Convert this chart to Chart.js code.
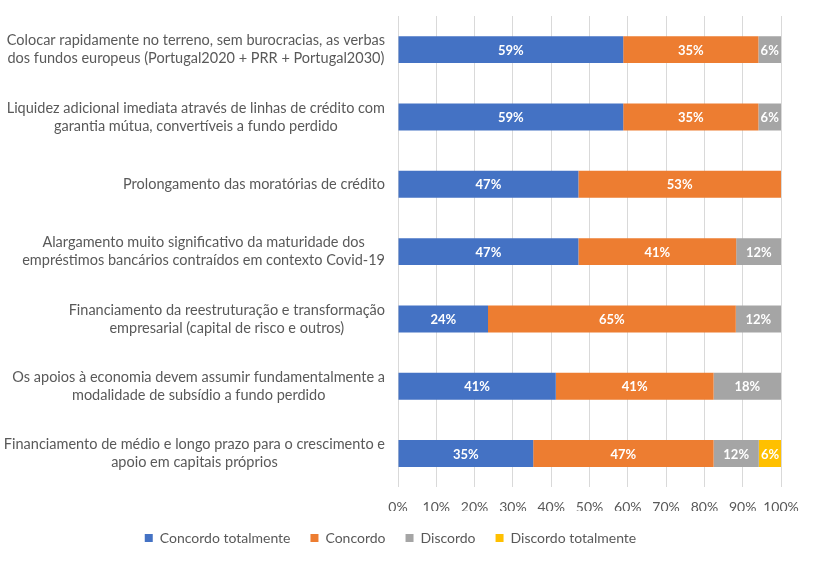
<!DOCTYPE html>
<html>
<head>
<meta charset="utf-8">
<script src="https://cdn.jsdelivr.net/npm/chart.js@4"></script>
<style>
	html, body { margin: 0; padding: 0; background: #fff; }
	#wrap { width: 814px; height: 561px; }
</style>
</head>
<body>
<div id="wrap"><canvas id="surveyChart" width="814" height="561"></canvas></div>
<script>
const categories = [
	['Colocar rapidamente no terreno, sem burocracias, as verbas', 'dos fundos europeus (Portugal2020 + PRR + Portugal2030)'],
	['Liquidez adicional imediata através de linhas de crédito com', 'garantia mútua, convertíveis a fundo perdido'],
	['Prolongamento das moratórias de crédito'],
	['Alargamento muito significativo da maturidade dos', 'empréstimos bancários contraídos em contexto Covid-19'],
	['Financiamento da reestruturação e transformação', 'empresarial (capital de risco e outros)'],
	['Os apoios à economia devem assumir fundamentalmente a', 'modalidade de subsídio a fundo perdido'],
	['Financiamento de médio e longo prazo para o crescimento e', 'apoio em capitais próprios']
];

const concordoTotalmente = [58.8, 58.8, 47.1, 47.1, 23.5, 41.2, 35.3];
const concordo = [35.3, 35.3, 52.9, 41.2, 64.7, 41.2, 47.1];
const discordo = [5.9, 5.9, 0, 11.8, 11.8, 17.6, 11.8];
const discordoTotalmente = [0, 0, 0, 0, 0, 0, 5.9];

const FONT = 'Lato';
const TEXT = '#595959';

// white % labels in the middle of each segment
const barLabels = {
	id: 'barLabels',
	afterDatasetsDraw(chart) {
		const ctx = chart.ctx;
		ctx.save();
		ctx.font = 'bold 13px ' + FONT;
		ctx.fillStyle = '#fff';
		ctx.textAlign = 'center';
		ctx.textBaseline = 'middle';
		chart.data.datasets.forEach((ds, di) => {
			const meta = chart.getDatasetMeta(di);
			meta.data.forEach((bar, i) => {
				const v = ds.data[i];
				if (!v) return;
				const x = (bar.x + bar.base) / 2;
				ctx.fillText(Math.round(v) + '%', x, bar.y + 1);
			});
		});
		ctx.restore();
	}
};

// category labels: block right aligned to the axis, lines centred inside it
const catLabels = {
	id: 'catLabels',
	afterDraw(chart) {
		const ctx = chart.ctx;
		const y = chart.scales.y;
		ctx.save();
		ctx.font = '14.5px ' + FONT;
		ctx.fillStyle = TEXT;
		ctx.textAlign = 'center';
		ctx.textBaseline = 'middle';
		categories.forEach((lines, i) => {
			const yc = y.getPixelForTick(i);
			let widest = 0;
			lines.forEach(l => { widest = Math.max(widest, ctx.measureText(l).width); });
			const xc = y.right - 13 - widest / 2;
			lines.forEach((l, j) => {
				ctx.fillText(l, xc, yc + (j - (lines.length - 1) / 2) * 18);
			});
		});
		ctx.restore();
	}
};

const data = {
	labels: categories,
	datasets: [
		{ label: 'Concordo totalmente', data: concordoTotalmente, backgroundColor: '#4472C4' },
		{ label: 'Concordo', data: concordo, backgroundColor: '#ED7D31' },
		{ label: 'Discordo', data: discordo, backgroundColor: '#A5A5A5' },
		{ label: 'Discordo totalmente', data: discordoTotalmente, backgroundColor: '#FFC000' }
	]
};

const config = {
	type: 'bar',
	data: data,
	options: {
		indexAxis: 'y',
		responsive: false,
		animation: false,
		datasets: {
			bar: { barPercentage: 0.4, categoryPercentage: 1 }
		},
		layout: {
			padding: { left: 0, right: 33, top: 16, bottom: 6 }
		},
		scales: {
			x: {
				stacked: true,
				min: 0,
				max: 100,
				ticks: {
					stepSize: 10,
					padding: 12,
					maxRotation: 0,
					minRotation: 0,
					autoSkip: false,
					color: TEXT,
					font: { family: FONT, size: 14 },
					callback: v => v + '%'
				},
				grid: { color: '#D9D9D9', drawTicks: false },
				border: { display: false },
				// let the plot run a bit closer to the legend
				afterFit: scale => { scale.height -= 17; }
			},
			y: {
				stacked: true,
				ticks: { display: false },
				grid: { display: false },
				border: { display: false },
				afterFit: scale => { scale.width = 398; }
			}
		},
		plugins: {
			legend: {
				position: 'bottom',
				labels: {
					boxWidth: 8,
					boxHeight: 8,
					padding: 20,
					color: TEXT,
					font: { family: FONT, size: 14 }
				}
			},
			tooltip: { enabled: false }
		}
	},
	plugins: [barLabels, catLabels]
};

const ctx = document.getElementById('surveyChart').getContext('2d');
new Chart(ctx, config);
</script>
</body>
</html>
